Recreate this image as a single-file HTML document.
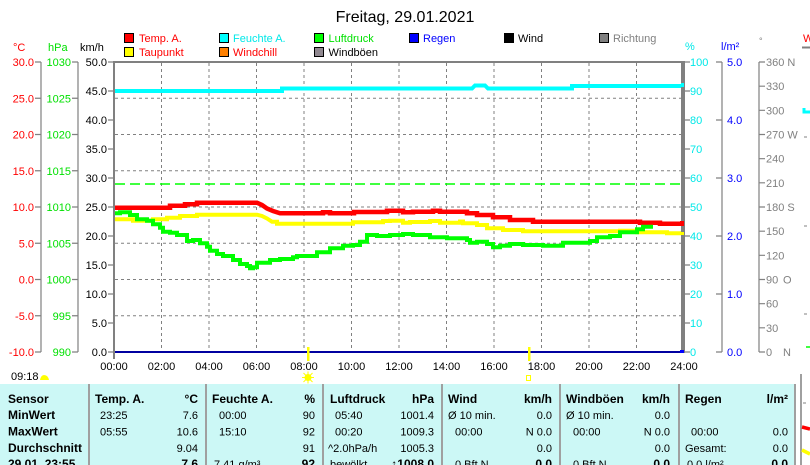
<!DOCTYPE html>
<html><head><meta charset="utf-8"><style>
html,body{margin:0;padding:0;background:#fff;width:810px;height:465px;overflow:hidden}
svg{display:block}
text{font-family:"Liberation Sans",Arial,sans-serif}
</style></head><body>
<svg width="810" height="465" viewBox="0 0 810 465" xmlns="http://www.w3.org/2000/svg">
<rect width="810" height="465" fill="#fff"/>
<!-- title -->
<text x="405" y="22" font-size="16" text-anchor="middle" fill="#000">Freitag, 29.01.2021</text>

<!-- legend -->
<g font-size="11">
<rect x="124.5" y="33.5" width="9" height="9" fill="#ff0000" stroke="#000"/><text x="139" y="42" fill="#ff0000">Temp. A.</text>
<rect x="219.5" y="33.5" width="9" height="9" fill="#00ffff" stroke="#000"/><text x="233" y="42" fill="#00e8e8">Feuchte A.</text>
<rect x="314.5" y="33.5" width="9" height="9" fill="#00ff00" stroke="#000"/><text x="328.5" y="42" fill="#00e000">Luftdruck</text>
<rect x="409.5" y="33.5" width="9" height="9" fill="#0000ff" stroke="#000"/><text x="423" y="42" fill="#0000ff">Regen</text>
<rect x="504.5" y="33.5" width="9" height="9" fill="#000" stroke="#000"/><text x="518" y="42" fill="#000">Wind</text>
<rect x="599.5" y="33.5" width="9" height="9" fill="#808080" stroke="#000"/><text x="613" y="42" fill="#808080">Richtung</text>
<rect x="124.5" y="47.5" width="9" height="9" fill="#ffff00" stroke="#000"/><text x="139" y="56" fill="#ff0000">Taupunkt</text>
<rect x="219.5" y="47.5" width="9" height="9" fill="#ff8000" stroke="#000"/><text x="233" y="56" fill="#ff0000">Windchill</text>
<rect x="314.5" y="47.5" width="9" height="9" fill="#908890" stroke="#000"/><text x="328.5" y="56" fill="#000">Windböen</text>
</g>

<!-- axis headers -->
<g font-size="11">
<text x="13" y="51" fill="#ff0000">°C</text>
<text x="48" y="51" fill="#00e000">hPa</text>
<text x="80" y="51" fill="#000">km/h</text>
<text x="685" y="50" fill="#00e8e8">%</text>
<text x="721" y="50" fill="#0000ff">l/m²</text>
<text x="759" y="44" fill="#808080" font-size="9">°</text>
<text x="803" y="42" fill="#ff0000">W</text>
</g>
<line x1="802" y1="47.5" x2="810" y2="47.5" stroke="#808080" stroke-width="2"/>
<path d="M804,108 V112 H810" stroke="#00ffff" stroke-width="3" fill="none"/>
<g stroke="#808080" stroke-width="1">
<line x1="804" y1="137" x2="807" y2="137"/><line x1="804" y1="226" x2="807" y2="226"/><line x1="804" y1="314" x2="807" y2="314"/>
</g>
<line x1="806" y1="347" x2="810" y2="347" stroke="#00ff00" stroke-width="1.5"/>

<!-- left axes lines -->
<g stroke="#808080" stroke-width="1.2" fill="none">
<line x1="41" y1="62" x2="41" y2="352"/>
<line x1="78" y1="62" x2="78" y2="352"/>
<path d="M35,62H41M35,98.25H41M35,134.5H41M35,170.75H41M35,207H41M35,243.25H41M35,279.5H41M35,315.75H41M35,352H41"/>
<path d="M72,62H78M72,98.25H78M72,134.5H78M72,170.75H78M72,207H78M72,243.25H78M72,279.5H78M72,315.75H78M72,352H78"/>
<path d="M108,62H114M108,91H114M108,120H114M108,149H114M108,178H114M108,207H114M108,236H114M108,265H114M108,294H114M108,323H114M108,352H114"/>
<path d="M684,62H690M684,91H690M684,120H690M684,149H690M684,178H690M684,207H690M684,236H690M684,265H690M684,294H690M684,323H690M684,352H690"/>
<line x1="722" y1="62" x2="722" y2="352"/>
<path d="M716,62H722M716,120H722M716,178H722M716,236H722M716,294H722M716,352H722"/>
<line x1="759" y1="62" x2="759" y2="352"/>
<path d="M759,62H765M759,86.17H765M759,110.33H765M759,134.5H765M759,158.67H765M759,182.83H765M759,207H765M759,231.17H765M759,255.33H765M759,279.5H765M759,303.67H765M759,327.83H765M759,352H765"/>
</g>

<!-- tick labels -->
<g font-size="11" fill="#ff0000" text-anchor="end">
<text x="34" y="66">30.0</text><text x="34" y="102.25">25.0</text><text x="34" y="138.5">20.0</text><text x="34" y="174.75">15.0</text><text x="34" y="211">10.0</text><text x="34" y="247.25">5.0</text><text x="34" y="283.5">0.0</text><text x="34" y="319.75">-5.0</text><text x="34" y="356">-10.0</text>
</g>
<g font-size="11" fill="#00e000" text-anchor="end">
<text x="71" y="66">1030</text><text x="71" y="102.25">1025</text><text x="71" y="138.5">1020</text><text x="71" y="174.75">1015</text><text x="71" y="211">1010</text><text x="71" y="247.25">1005</text><text x="71" y="283.5">1000</text><text x="71" y="319.75">995</text><text x="71" y="356">990</text>
</g>
<g font-size="11" fill="#000" text-anchor="end">
<text x="107" y="66">50.0</text><text x="107" y="95">45.0</text><text x="107" y="124">40.0</text><text x="107" y="153">35.0</text><text x="107" y="182">30.0</text><text x="107" y="211">25.0</text><text x="107" y="240">20.0</text><text x="107" y="269">15.0</text><text x="107" y="298">10.0</text><text x="107" y="327">5.0</text><text x="107" y="356">0.0</text>
</g>
<g font-size="11" fill="#00e8e8">
<text x="690" y="66">100</text><text x="690" y="95">90</text><text x="690" y="124">80</text><text x="690" y="153">70</text><text x="690" y="182">60</text><text x="690" y="211">50</text><text x="690" y="240">40</text><text x="690" y="269">30</text><text x="690" y="298">20</text><text x="690" y="327">10</text><text x="690" y="356">0</text>
</g>
<g font-size="11" fill="#0000ff">
<text x="727" y="66">5.0</text><text x="727" y="124">4.0</text><text x="727" y="182">3.0</text><text x="727" y="240">2.0</text><text x="727" y="298">1.0</text><text x="727" y="356">0.0</text>
</g>
<g font-size="11" fill="#808080">
<text x="766" y="66">360 N</text><text x="766" y="90.17">330</text><text x="766" y="114.33">300</text><text x="766" y="138.5">270 W</text><text x="766" y="162.67">240</text><text x="766" y="186.83">210</text><text x="766" y="211">180 S</text><text x="766" y="235.17">150</text><text x="766" y="259.33">120</text><text x="766" y="283.5">90</text><text x="783" y="283.5">O</text><text x="766" y="307.67">60</text><text x="766" y="331.83">30</text><text x="766" y="356">0</text><text x="783" y="356">N</text>
</g>

<!-- grid -->
<g stroke="#808080" stroke-width="1" stroke-dasharray="3,3" fill="none">
<path d="M161.5,63V352M209,63V352M256.5,63V352M304,63V352M351.5,63V352M399,63V352M446.5,63V352M494,63V352M541.5,63V352M589,63V352M636.5,63V352"/>
<path d="M115,98.25H682M115,134.5H682M115,170.75H682M115,207H682M115,243.25H682M115,279.5H682M115,315.75H682"/>
</g>
<line x1="115" y1="184" x2="682" y2="184" stroke="#00ff00" stroke-width="1.5" stroke-dasharray="10,5"/>

<!-- series -->
<g fill="none" stroke-linejoin="miter">
<path stroke="#00ffff" stroke-width="4" d="M114,91 H282 V88.5 H472 L475,85.5 H485 L488,88.5 H572 V86 H683"/>
<path stroke="#ffff00" stroke-width="4" d="M114,219.3 H133 V220.7 H153 V219.3 H167 V217.7 H180 V216 H197 V214.7 H257 L262,216 L267,218.5 L272,221.7 H277 V223.7 H353 V222.3 H383 V221 H390 V220.7 H403 V222.7 H410 V222 H430 V221 H440 V222.7 H460 V221.5 H463 V223.3 H477 V225 H487 V228.3 H503 V230 H523 V231.3 H620 V230.7 H637 V232.3 H667 V233.3 H683"/>
<path stroke="#ff0000" stroke-width="4.5" d="M114,207.7 H170 V205.7 H185 V204.3 H197 V202.7 H257 L262,205 L267,208.5 L273,211 L280,213.3 H323 V212.3 H330 V213.3 H354 V212 H387 V210.7 H403 V212.3 H413 V211.7 H433 V210.7 H440 V211.7 H467 V213.3 H477 V215 H493 V217.3 H510 V220 H533 V221.7 H640 V222.7 H660 V223.7 H683"/>
<path stroke="#00ff00" stroke-width="4" d="M114,213.3 H120 V212.3 H130 V215 H137 V219.3 H147 V220.7 H153 V224.3 H160 V227.7 H163 V231.7 H170 V232.7 H177 V235 H187 V241 H193 V240 H200 V243.3 H207 V246.7 H210 V250.7 H217 V254 H223 V256 H233 V260 H240 V264 H247 V266 H250 V268.3 H253 V267.3 H257 V262.7 H270 V260 H280 V259 H293 V257.3 H297 V256 H317 V252.3 H330 V248.3 H343 V245.7 H353 V245 H360 V241.7 H367 V235 H377 V236 H390 V235 H403 V234 H413 V235 H430 V237.3 H447 V238.3 H467 V240 H470 V242.7 H477 V241.7 H487 V244 H493 V247.3 H500 V245.7 H510 V244 H523 V245 H543 V245.7 H563 V242.7 H590 V241 H597 V237.3 H610 V236 H620 V232.3 H637 V229.3 H643 V226.7 H653"/>
</g>
<line x1="114" y1="352" x2="683" y2="352" stroke="#0000a0" stroke-width="2"/>

<!-- plot border -->
<rect x="113" y="61" width="2" height="298" fill="#808080"/>
<rect x="113" y="61" width="572" height="2" fill="#808080"/>
<rect x="681" y="61" width="4" height="292" fill="#808080"/>
<rect x="681" y="83" width="3" height="4" fill="#00ffff"/>
<rect x="680" y="221" width="4" height="5" fill="#ff0000"/>
<rect x="680" y="232" width="4" height="3" fill="#ffff00"/>
<rect x="680" y="350" width="4" height="3" fill="#0000ff"/>

<!-- sunrise/sunset markers -->
<rect x="307" y="347" width="2.5" height="14" fill="#ffff00"/>
<rect x="528" y="347" width="2.5" height="14" fill="#ffff00"/>

<!-- x labels -->
<g font-size="11" fill="#000" text-anchor="middle">
<text x="114" y="370">00:00</text><text x="161.5" y="370">02:00</text><text x="209" y="370">04:00</text><text x="256.5" y="370">06:00</text><text x="304" y="370">08:00</text><text x="351.5" y="370">10:00</text><text x="399" y="370">12:00</text><text x="446.5" y="370">14:00</text><text x="494" y="370">16:00</text><text x="541.5" y="370">18:00</text><text x="589" y="370">20:00</text><text x="636.5" y="370">22:00</text><text x="684" y="370">24:00</text>
</g>
<text x="11" y="380" font-size="11" fill="#000">09:18</text>
<path d="M40,380 Q41,375 44,375 Q48,375 49,380 Z" fill="#ffff00"/>
<g stroke="#ffff00" stroke-width="1">
<line x1="302" y1="377.5" x2="314" y2="377.5"/><line x1="308" y1="371.5" x2="308" y2="383.5"/>
<line x1="303.5" y1="373" x2="312.5" y2="382"/><line x1="312.5" y1="373" x2="303.5" y2="382"/>
</g>
<circle cx="308" cy="377.5" r="3.5" fill="#ffff00"/>
<rect x="526.5" y="375.5" width="4" height="5" fill="none" stroke="#ffff00" stroke-width="1"/>

<!-- table -->
<rect x="0" y="384" width="794" height="81" fill="#ccf8f6"/>
<g fill="#a0a0a0">
<rect x="88" y="384" width="2" height="81"/><rect x="205" y="384" width="2" height="81"/><rect x="322" y="384" width="2" height="81"/><rect x="441" y="384" width="2" height="81"/><rect x="559" y="384" width="2" height="81"/><rect x="678" y="384" width="2" height="81"/>
<rect x="794" y="384" width="2" height="81"/><rect x="800" y="374" width="2" height="91"/>
</g>
<line x1="803" y1="403" x2="806" y2="403" stroke="#808080" stroke-width="1"/>
<path d="M802,427 L810,429" stroke="#ff0000" stroke-width="3.5"/>
<path d="M802,450 L810,454" stroke="#ffff00" stroke-width="3.5"/>

<g font-size="12" font-weight="bold" fill="#000">
<text x="8" y="403">Sensor</text><text x="8" y="419">MinWert</text><text x="8" y="435.5">MaxWert</text><text x="8" y="452">Durchschnitt</text><text x="8" y="468">29.01. 23:55</text>
<text x="95" y="403">Temp. A.</text><text x="198" y="403" text-anchor="end">°C</text>
<text x="212" y="403">Feuchte A.</text><text x="315" y="403" text-anchor="end">%</text>
<text x="330" y="403">Luftdruck</text><text x="434" y="403" text-anchor="end">hPa</text>
<text x="448" y="403">Wind</text><text x="552" y="403" text-anchor="end">km/h</text>
<text x="566" y="403">Windböen</text><text x="670" y="403" text-anchor="end">km/h</text>
<text x="685" y="403">Regen</text><text x="788" y="403" text-anchor="end">l/m²</text>
<text x="198" y="468" text-anchor="end">7.6</text>
<text x="315" y="468" text-anchor="end">92</text>
<text x="434" y="468" text-anchor="end">↑1008.0</text>
<text x="552" y="468" text-anchor="end">0.0</text>
<text x="670" y="468" text-anchor="end">0.0</text>
<text x="788" y="468" text-anchor="end">0.0</text>
</g>
<g font-size="11" fill="#000">
<text x="100" y="419">23:25</text><text x="198" y="419" text-anchor="end">7.6</text>
<text x="100" y="435.5">05:55</text><text x="198" y="435.5" text-anchor="end">10.6</text>
<text x="198" y="452" text-anchor="end">9.04</text>
<text x="219" y="419">00:00</text><text x="315" y="419" text-anchor="end">90</text>
<text x="219" y="435.5">15:10</text><text x="315" y="435.5" text-anchor="end">92</text>
<text x="315" y="452" text-anchor="end">91</text>
<text x="214" y="468">7.41 g/m³</text>
<text x="335" y="419">05:40</text><text x="434" y="419" text-anchor="end">1001.4</text>
<text x="335" y="435.5">00:20</text><text x="434" y="435.5" text-anchor="end">1009.3</text>
<text x="328" y="452">^2.0hPa/h</text><text x="434" y="452" text-anchor="end">1005.3</text>
<text x="330" y="468">bewölkt</text>
<text x="448" y="419">Ø 10 min.</text><text x="552" y="419" text-anchor="end">0.0</text>
<text x="455" y="435.5">00:00</text><text x="552" y="435.5" text-anchor="end">N 0.0</text>
<text x="552" y="452" text-anchor="end">0.0</text>
<text x="455" y="468">0 Bft N</text>
<text x="566" y="419">Ø 10 min.</text><text x="670" y="419" text-anchor="end">0.0</text>
<text x="573" y="435.5">00:00</text><text x="670" y="435.5" text-anchor="end">N 0.0</text>
<text x="670" y="452" text-anchor="end">0.0</text>
<text x="573" y="468">0 Bft N</text>
<text x="691" y="435.5">00:00</text><text x="788" y="435.5" text-anchor="end">0.0</text>
<text x="685" y="452">Gesamt:</text><text x="788" y="452" text-anchor="end">0.0</text>
<text x="687" y="468">0.0 l/m²</text>
</g>
</svg>
</body></html>
